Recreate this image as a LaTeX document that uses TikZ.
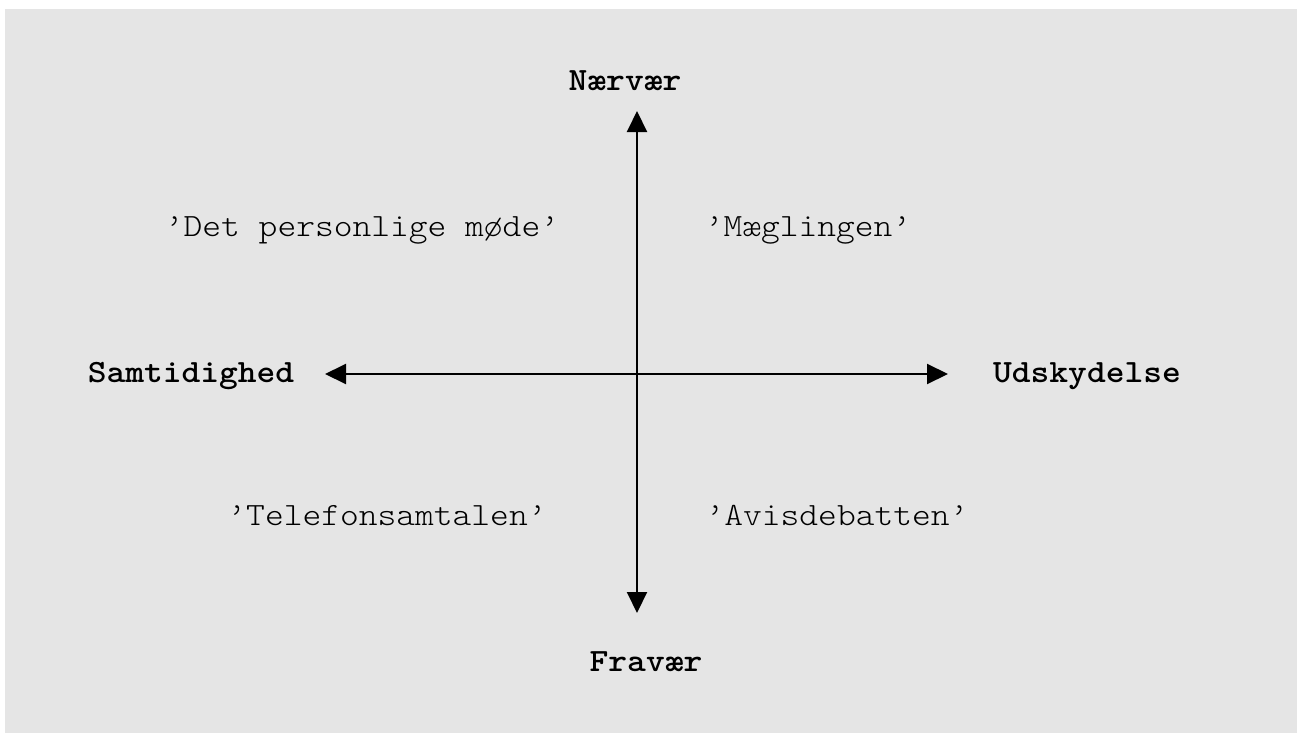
\documentclass[tikz,border=0pt]{standalone}
\usepackage{fontspec}
\newfontfamily\typewriter{lmmonolt10-regular.otf}[BoldFont=lmmonolt10-bold.otf, FakeStretch=1.1]
\usetikzlibrary{arrows.meta}
\definecolor{panel}{RGB}{229,229,229}
\tikzset{
  axislabel/.style={anchor=base, inner sep=0pt, font=\typewriter\bfseries\fontsize{32.5}{38}\selectfont},
  quadlabel/.style={anchor=base, inner sep=0pt, font=\typewriter\fontsize{32.5}{38}\selectfont},
  axis/.style={line width=2pt, {Triangle[length=21pt,width=20pt]}-{Triangle[length=21pt,width=20pt]}}
}
\begin{document}
\begin{tikzpicture}[x=1pt,y=-1pt]
  \useasboundingbox (0,0) rectangle (1297,733);
  \fill[panel] (5,9) rectangle (1297,733);

  % axis end points
  \coordinate (top) at (637,111);
  \coordinate (bottom) at (637,613);
  \coordinate (left) at (325,374);
  \coordinate (right) at (948,374);

  \draw[axis] (bottom) -- (top);
  \draw[axis] (left) -- (right);

  % axis labels
  \node[axislabel] (naervaer) at (625,91) {Nærvær};
  \node[axislabel] (fravaer) at (646,671) {Fravær};
  \node[axislabel] (samtid) at (191,382) {Samtidighed};
  \node[axislabel] (udsk) at (1087,382) {Udskydelse};

  % quadrant labels
  \node[quadlabel] (moede) at (362,236) {’Det personlige møde’};
  \node[quadlabel] (maegl) at (808,236) {’Mæglingen’};
  \node[quadlabel] (telefon) at (387,525) {’Telefonsamtalen’};
  \node[quadlabel] (avis) at (837,525) {’Avisdebatten’};
\end{tikzpicture}
\end{document}
